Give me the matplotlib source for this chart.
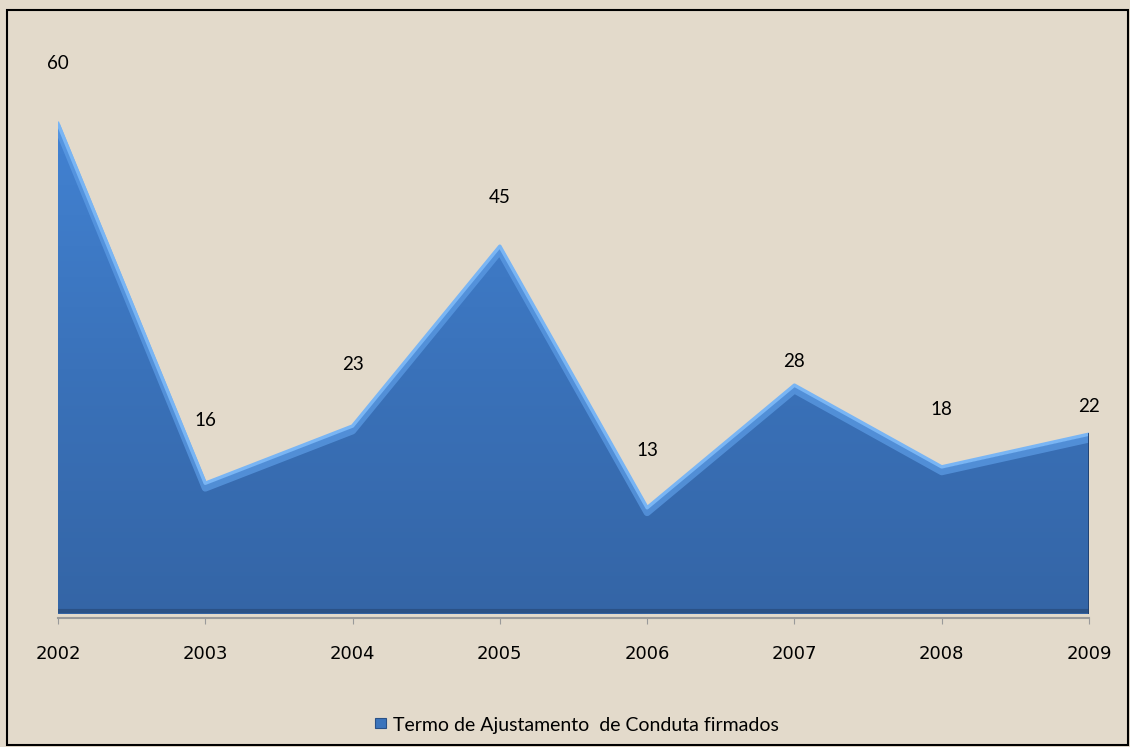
import matplotlib.pyplot as plt
import numpy as np
from matplotlib.colors import LinearSegmentedColormap
from matplotlib.patches import Polygon

# Data
years = ['2002', '2003', '2004', '2005', '2006', '2007', '2008', '2009']
termos = [60, 16, 23, 45, 13, 28, 18, 22]
# label offsets above each point (points), as in the original layout
label_dy = [37, 39, 38, 29, 35, 11, 35, 14]

x = np.arange(len(years))
bg = '#E3DACB'

fig = plt.figure(figsize=(11.3, 7.47), dpi=100, facecolor=bg)
ax = fig.add_axes([0.0513, 0.178, 0.9124, 0.766])
ax.set_facecolor('none')

# area polygon
verts = [(x[0], 0)] + list(zip(x, termos)) + [(x[-1], 0)]
poly = Polygon(verts, closed=True, facecolor='none', edgecolor='none')
ax.add_patch(poly)

# vertical gradient fill clipped to the area
cmap = LinearSegmentedColormap.from_list('blu', ['#3465A6', '#3A72BA', '#4282D2'])
grad = np.linspace(0, 1, 256).reshape(-1, 1)
img = ax.imshow(grad, extent=[x[0], x[-1], 0, max(termos)], origin='lower',
                aspect='auto', cmap=cmap, zorder=2)
img.set_clip_path(poly)

# bevel: light edge along the top, dark edges at bottom and right
ax.plot(x, np.array(termos) - 0.6, color='#5D9DE6', lw=5, zorder=3, alpha=0.7)
ax.plot(x, termos, color='#79B5F4', lw=2.5, zorder=3)
ax.plot([x[0], x[-1]], [0.4, 0.4], color='#2A5186', lw=3, zorder=3)
ax.plot([x[-1], x[-1]], [0, termos[-1]], color='#1F3F6E', lw=2, zorder=3)

# value labels
for xi, v, dy in zip(x, termos, label_dy):
    ax.annotate(str(v), (xi, v), xytext=(0, dy), textcoords='offset points',
                ha='center', va='bottom', fontsize=13.5, fontfamily='Lato', color='black')

ax.set_xlim(x[0], x[-1])
ax.set_ylim(0, 70)
ax.set_yticks([])
ax.set_xticks(x, years)
ax.tick_params(axis='x', length=4, color='#9A9A9A', pad=15, labelsize=13)
for lbl in ax.get_xticklabels():
    lbl.set_fontfamily('Lato')
    lbl.set_fontsize(13)
for s in ['top', 'right', 'left']:
    ax.spines[s].set_visible(False)
ax.spines['bottom'].set_color('#9A9A9A')
ax.spines['bottom'].set_linewidth(1.5)
ax.spines['bottom'].set_position(('outward', 3))

# legend
fig.text(0.3475, 0.018, 'Termo de Ajustamento  de Conduta firmados', ha='left',
         va='bottom', fontsize=14, fontfamily='Lato')
fig.patches.append(plt.Rectangle((0.332, 0.0255), 0.0095, 0.0135, transform=fig.transFigure,
                                 facecolor='#3B74BC', edgecolor='#2A5186', lw=0.8))

# outer border
fig.patches.append(plt.Rectangle((0.006, 0.003), 0.992, 0.984, transform=fig.transFigure,
                                 facecolor='none', edgecolor='black', lw=1.5))

plt.savefig('out.png', dpi=100, facecolor=bg)
